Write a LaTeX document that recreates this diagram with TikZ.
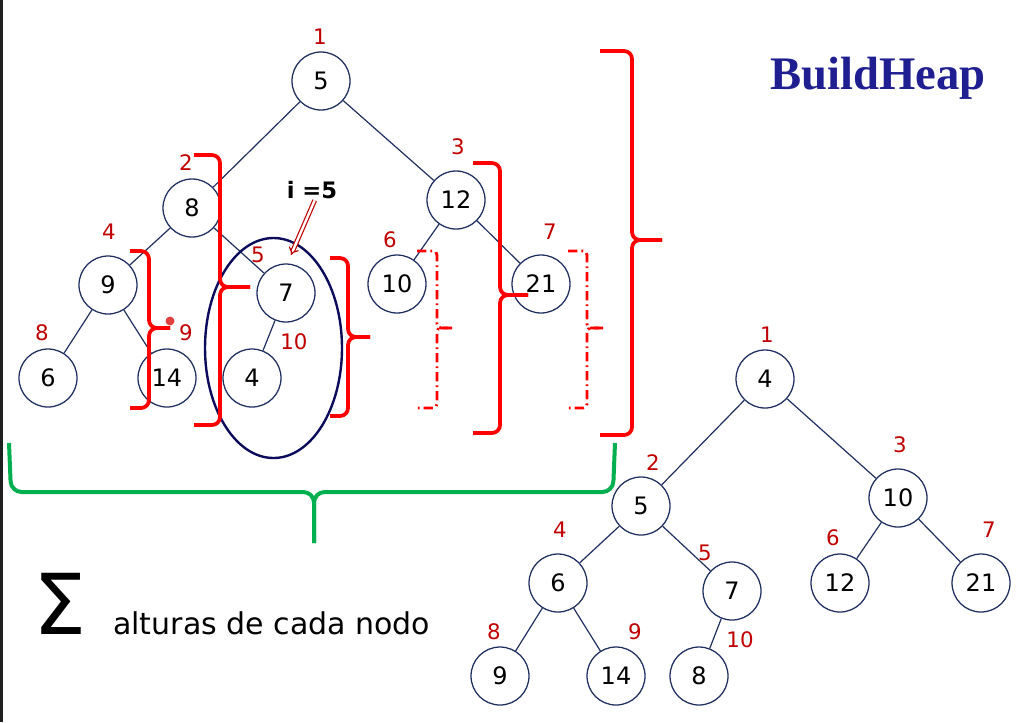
\documentclass[tikz,border=0pt]{standalone}
\usepackage{fontspec}
\setmainfont{DejaVu Sans}
\newfontfamily\titlefont{Liberation Serif}
\usetikzlibrary{arrows.meta}
\definecolor{navy}{RGB}{31,48,96}
\definecolor{ellnavy}{RGB}{12,12,92}
\definecolor{lblred}{RGB}{192,0,0}
\definecolor{brred}{RGB}{255,0,0}
\definecolor{brgreen}{RGB}{0,176,80}
\definecolor{ttlblue}{RGB}{31,31,145}
\definecolor{dotred}{RGB}{224,64,64}
\definecolor{edgegray}{RGB}{30,32,32}
\tikzset{
 hnode/.style={circle, draw=navy, line width=0.95pt, minimum size=43.5pt, inner sep=0pt, font=\fontsize{18}{20}\selectfont},
 hedge/.style={draw=navy, line width=0.9pt},
 idx/.style={text=lblred, font=\fontsize{16}{18}\selectfont, inner sep=0pt},
 brsolid/.style={draw=brred, line width=2.8pt, rounded corners=6pt},
 brdash/.style={draw=brred, line width=2.2pt, rounded corners=3pt, dash pattern=on 7pt off 3pt on 1.3pt off 3pt},
 grbrace/.style={draw=brgreen, line width=3pt, rounded corners=8pt},
}
\newcommand\heapbrace[7]{%
 \draw[#1] (#2-#6,#3) -- (#2,#3) -- (#2,#5) -- (#2+#7,#5);
 \draw[#1] (#2+#7,#5) -- (#2,#5) -- (#2,#4) -- (#2-#6,#4);
}
\begin{document}
\begin{tikzpicture}[x=0.75pt,y=-0.75pt]
\useasboundingbox (0,0) rectangle (1016,722);
\fill[edgegray] (0,0) rectangle (2.5,722);

% top tree
\node[hnode] (r5) at (321,81) {5};
\node[hnode] (t8) at (192,208) {8};
\node[hnode] (t12) at (456,200) {12};
\node[hnode] (t9) at (108,285) {9};
\node[hnode] (t7) at (286,293) {7};
\node[hnode] (t10) at (397,284) {10};
\node[hnode] (t21) at (541,284) {21};
\node[hnode] (t6) at (48,378) {6};
\node[hnode] (t14) at (167,378) {14};
\node[hnode] (t4) at (252,378) {4};
\foreach \a/\b in {r5/t8,r5/t12,t8/t9,t8/t7,t9/t6,t9/t14,t7/t4,t12/t10,t12/t21}
  \draw[hedge] (\a) -- (\b);
\node[idx] (l1) at (320,37) {1};
\node[idx] (l2) at (186,163) {2};
\node[idx] (l3) at (458,147) {3};
\node[idx] (l4) at (109,232) {4};
\node[idx] (l5) at (258,255) {5};
\node[idx] (l6) at (390,240) {6};
\node[idx] (l7) at (550,232) {7};
\node[idx] (l8) at (42,333) {8};
\node[idx] (l9) at (186,333) {9};
\node[idx] (l10) at (294,342) {10};

\draw[ellnavy, line width=1.8pt] (273.5,348) ellipse [x radius=68.5, y radius=110];
\fill[dotred] (170,321) circle [radius=4.5];

% braces
\heapbrace{brsolid}{632}{51}{435}{240}{32}{30}
\heapbrace{brsolid}{220}{155}{425}{287}{26}{30}
\heapbrace{brsolid}{149}{251}{408}{328}{19}{21}
\heapbrace{brsolid}{348}{258}{416}{337}{18}{22}
\heapbrace{brsolid}{500}{163}{433}{295}{27}{28}
\heapbrace{brdash}{437}{251}{408}{328}{20}{15}
\heapbrace{brdash}{587}{251}{408}{328}{19}{16}

\draw[grbrace] (9,443) -- (11,492) -- (314,492) -- (314,543);
\draw[grbrace] (615,443) -- (613,492) -- (314,492) -- (314,543);

% i = 5
\node[font=\bfseries\fontsize{17}{19}\selectfont, inner sep=1pt] (ilabel) at (312,190) {i =5};
\coordinate (itip) at (291,255);
\draw[lblred, double, double distance=1.8pt, line width=0.9pt, -{Implies}] ([xshift=2pt]ilabel.south) -- (itip);

% title
\node[font=\titlefont\bfseries\fontsize{35}{37}\selectfont, text=ttlblue, anchor=base, inner sep=0pt] (title) at (878,89) {BuildHeap};

% sum
\node[font=\fontsize{63}{65}\selectfont, anchor=base, inner sep=0pt] (sigma) at (60,634) {Σ};
\node[anchor=base west, inner sep=0pt, font=\fontsize{22.5}{24}\selectfont] (alt) at (113,634) {alturas de cada nodo};

% bottom tree
\node[hnode] (b4) at (765,379) {4};
\node[hnode] (b5) at (641,506) {5};
\node[hnode] (b10) at (898,498) {10};
\node[hnode] (b6) at (558,583) {6};
\node[hnode] (b7) at (732,591) {7};
\node[hnode] (b12) at (840,583) {12};
\node[hnode] (b21) at (981,583) {21};
\node[hnode] (b9) at (500,676) {9};
\node[hnode] (b14) at (616,676) {14};
\node[hnode] (b8) at (699,676) {8};
\foreach \a/\b in {b4/b5,b4/b10,b5/b6,b5/b7,b6/b9,b6/b14,b7/b8,b10/b12,b10/b21}
  \draw[hedge] (\a) -- (\b);
\node[idx] (m1) at (767,335) {1};
\node[idx] (m2) at (653,463) {2};
\node[idx] (m3) at (900,445) {3};
\node[idx] (m4) at (560,530) {4};
\node[idx] (m5) at (705,553) {5};
\node[idx] (m6) at (833,538) {6};
\node[idx] (m7) at (989,530) {7};
\node[idx] (m8) at (494,632) {8};
\node[idx] (m9) at (635,632) {9};
\node[idx] (m10) at (740,640) {10};
\end{tikzpicture}
\end{document}
